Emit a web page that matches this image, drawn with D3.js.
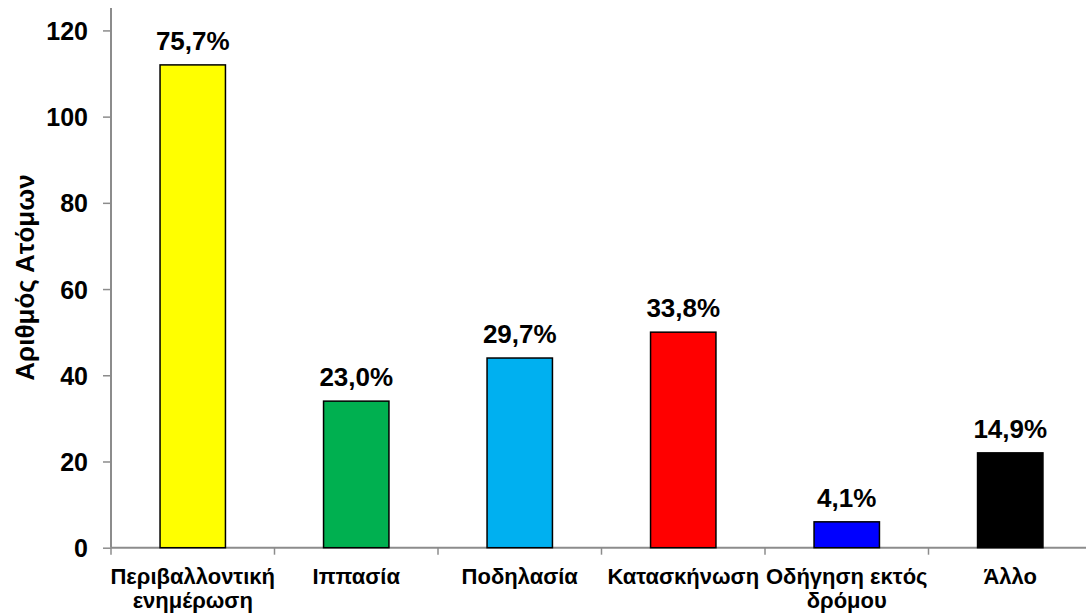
<!DOCTYPE html>
<html>
<head>
<meta charset="utf-8">
<script src="https://cdn.jsdelivr.net/npm/d3@7"></script>
<style>
  html, body { margin: 0; padding: 0; background: #fff; }
  svg text { font-family: "Liberation Sans", Arial, sans-serif; font-weight: bold; fill: #000; }
</style>
</head>
<body>
<svg id="chart" width="1086" height="613"></svg>
<script>
// Activity categories (two-line labels split by "\n")
const categories = ["Περιβαλλοντική\nενημέρωση", "Ιππασία", "Ποδηλασία", "Κατασκήνωση", "Οδήγηση εκτός\nδρόμου", "Άλλο"];
// Number of persons per activity
const counts = [112, 34, 44, 50, 6, 22];
// Share of respondents shown above each bar
const shareLabels = ["75,7%", "23,0%", "29,7%", "33,8%", "4,1%", "14,9%"];
const barColors = ["#FFFF00", "#00B050", "#00B0F0", "#FF0000", "#0000FF", "#000000"];
const yTicks = [0, 20, 40, 60, 80, 100, 120];
const yTitle = "Αριθμός Ατόμων";

const svg = d3.select("#chart");
const plotLeft = 111, plotRight = 1092, plotTop = 8, plotBottom = 547.7;

const x = d3.scaleBand().domain(categories).range([plotLeft, plotRight]).paddingInner(0.6).paddingOuter(0.3);
const y = d3.scaleLinear().domain([0, 125.2]).range([plotBottom, plotTop]);

const axisColor = "#8c8c8c";

// Y axis
const yAxis = svg.append("g").attr("transform", `translate(${plotLeft},0)`)
  .call(d3.axisLeft(y).tickValues(yTicks).tickSize(8).tickPadding(15).tickFormat(d3.format("d")));
yAxis.select(".domain").remove();
yAxis.selectAll(".tick line").attr("stroke", axisColor).attr("stroke-width", 1.5);
yAxis.selectAll(".tick text").style("font-size", "25px").attr("dy", "0.36em");
yAxis.append("line").attr("x1", 0).attr("x2", 0).attr("y1", plotTop).attr("y2", plotBottom)
  .attr("stroke", axisColor).attr("stroke-width", 2);

// X axis line with category boundary ticks
const band = x.step();
const boundaries = d3.range(categories.length + 1).map(i => plotLeft + i * band);
svg.append("line").attr("x1", plotLeft).attr("x2", 1086).attr("y1", plotBottom).attr("y2", plotBottom)
  .attr("stroke", axisColor).attr("stroke-width", 2);
svg.append("g").selectAll("line").data(boundaries).join("line")
  .attr("x1", d => d).attr("x2", d => d).attr("y1", plotBottom).attr("y2", plotBottom + 7)
  .attr("stroke", axisColor).attr("stroke-width", 1.5);

// Bars
svg.append("g").selectAll("rect").data(counts).join("rect")
  .attr("x", (d, i) => x(categories[i]))
  .attr("y", d => y(d))
  .attr("width", x.bandwidth())
  .attr("height", d => y(0) - y(d))
  .attr("fill", (d, i) => barColors[i])
  .attr("stroke", "#000").attr("stroke-width", 1.5);

// Value labels
svg.append("g").selectAll("text").data(counts).join("text")
  .attr("x", (d, i) => x(categories[i]) + x.bandwidth() / 2)
  .attr("y", d => y(d) - 15)
  .attr("text-anchor", "middle")
  .style("font-size", "26px")
  .text((d, i) => shareLabels[i]);

// Category labels
const catG = svg.append("g").selectAll("text").data(categories).join("text")
  .attr("text-anchor", "middle")
  .style("font-size", "22px");
catG.each(function(d) {
  const cx = x(d) + x.bandwidth() / 2;
  d.split("\n").forEach((line, j) => {
    d3.select(this).append("tspan").attr("x", cx).attr("y", 584 + j * 24).text(line);
  });
});

// Y axis title
svg.append("text")
  .attr("transform", "translate(34,277.5) rotate(-90)")
  .attr("text-anchor", "middle")
  .style("font-size", "26px")
  .text(yTitle);
</script>
</body>
</html>
